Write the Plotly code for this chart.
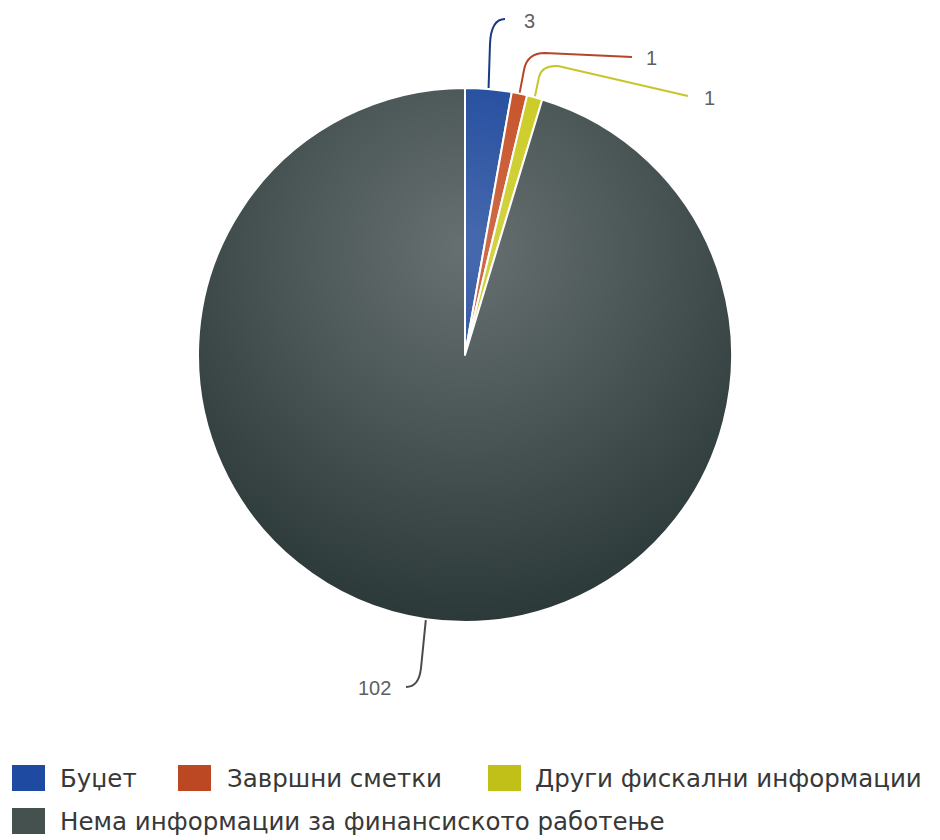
import math
import base64
import plotly.graph_objects as go

# ---- data -------------------------------------------------------------
categories = [
    "Буџет",
    "Завршни сметки",
    "Други фискални информации",
    "Нема информации за финансиското работење",
]
counts = [3, 1, 1, 102]

# ---- styling ----------------------------------------------------------
W, H = 940, 840
CX, CY, R = 465, 355, 267          # pie centre and radius in pixels

slice_colors = ["#00308f", "#bd3505", "#c3c300", "#2c3939"]
line_colors = ["#1b3a86", "#b4472a", "#c6c62a", "#4a4a4a"]
legend_colors = ["#1f4aa2", "#bb4822", "#c0c018", "#44514f"]

# connector routing after leaving the slice edge: elbow start, curve control,
# elbow end, line end  (pixel positions)
connector_routes = [
    [(490, 44), (491, 19), (505, 19), (505, 19)],
    [(524, 70), (527, 53), (545, 53), (632, 57)],
    [(539, 77), (542, 65), (558, 66), (688, 96)],
    [(421, 668), (419, 687), (406, 687), (406, 687)],
]
# value label anchors (pixel x, pixel y, xanchor)
label_spots = [(522, 21, "left"), (644, 58, "left"), (702, 98, "left"), (393, 688, "right")]

# legend layout: (square left, row centre y, text left)
legend_spots = [(12, 778, 58), (178, 778, 225), (488, 778, 533), (12, 821, 58)]


def px(x):
    return x / W


def py(y):
    return 1 - y / H


fig = go.Figure()

fig.add_trace(go.Pie(
    labels=categories,
    values=counts,
    sort=False,
    direction="clockwise",
    rotation=0,
    marker=dict(colors=slice_colors, line=dict(color="#ffffff", width=2)),
    textinfo="none",
    hoverinfo="label+value",
    showlegend=False,
    domain=dict(x=[px(CX - R), px(CX + R)], y=[py(CY + R), py(CY - R)]),
))

# radial sheen over the pie (light centre, fading towards the rim)
GR = 0.7 * 2 * R
GX, GY = CX, CY - R + 0.3 * 2 * R
svg = (
    f'<svg xmlns="http://www.w3.org/2000/svg" width="{2*GR:.0f}" height="{2*GR:.0f}">'
    '<defs><radialGradient id="g" cx="50%" cy="50%" r="50%">'
    '<stop offset="0" stop-color="#ffffff" stop-opacity="0.28"/>'
    '<stop offset="1" stop-color="#ffffff" stop-opacity="0"/>'
    '</radialGradient></defs>'
    '<rect width="100%" height="100%" fill="url(#g)"/></svg>'
)
fig.add_layout_image(dict(
    source="data:image/svg+xml;base64," + base64.b64encode(svg.encode()).decode(),
    xref="paper", yref="paper",
    x=px(GX - GR), y=py(GY - GR),
    sizex=2 * GR / W, sizey=2 * GR / H,
    xanchor="left", yanchor="top",
    sizing="stretch", layer="above",
))

# connectors and value labels
total = sum(counts)
cum = 0
shapes = []
annotations = []
for i, v in enumerate(counts):
    ang = (cum + v / 2) / total * 2 * math.pi
    cum += v
    ax, ay = CX + (R + 1) * math.sin(ang), CY - (R + 1) * math.cos(ang)
    (e1x, e1y), (cx_, cy_), (e2x, e2y), (ex, ey) = connector_routes[i]
    path = (
        f"M {px(ax)},{py(ay)} L {px(e1x)},{py(e1y)} "
        f"Q {px(cx_)},{py(cy_)} {px(e2x)},{py(e2y)} L {px(ex)},{py(ey)}"
    )
    shapes.append(dict(type="path", xref="paper", yref="paper", path=path,
                       line=dict(color=line_colors[i], width=2), layer="above"))
    lx, ly, anc = label_spots[i]
    annotations.append(dict(
        text=str(v), x=px(lx), y=py(ly), xref="paper", yref="paper",
        xanchor=anc, yanchor="middle", showarrow=False,
        font=dict(family="Liberation Sans, Arial", size=20, color="#606060"),
    ))

# legend
for i, name in enumerate(categories):
    sx, sy, tx = legend_spots[i]
    shapes.append(dict(
        type="rect", xref="paper", yref="paper",
        x0=px(sx), x1=px(sx + 33), y0=py(sy - 13), y1=py(sy + 13),
        fillcolor=legend_colors[i], line=dict(width=0), layer="above",
    ))
    annotations.append(dict(
        text=name, x=px(tx), y=py(sy), xref="paper", yref="paper",
        xanchor="left", yanchor="middle", showarrow=False,
        font=dict(family="DejaVu Sans", size=24.5, color="#383838"),
    ))

fig.update_layout(
    width=W, height=H,
    margin=dict(l=0, r=0, t=0, b=0),
    paper_bgcolor="#ffffff",
    plot_bgcolor="#ffffff",
    showlegend=False,
    shapes=shapes,
    annotations=annotations,
)

fig.write_html("out.html")
